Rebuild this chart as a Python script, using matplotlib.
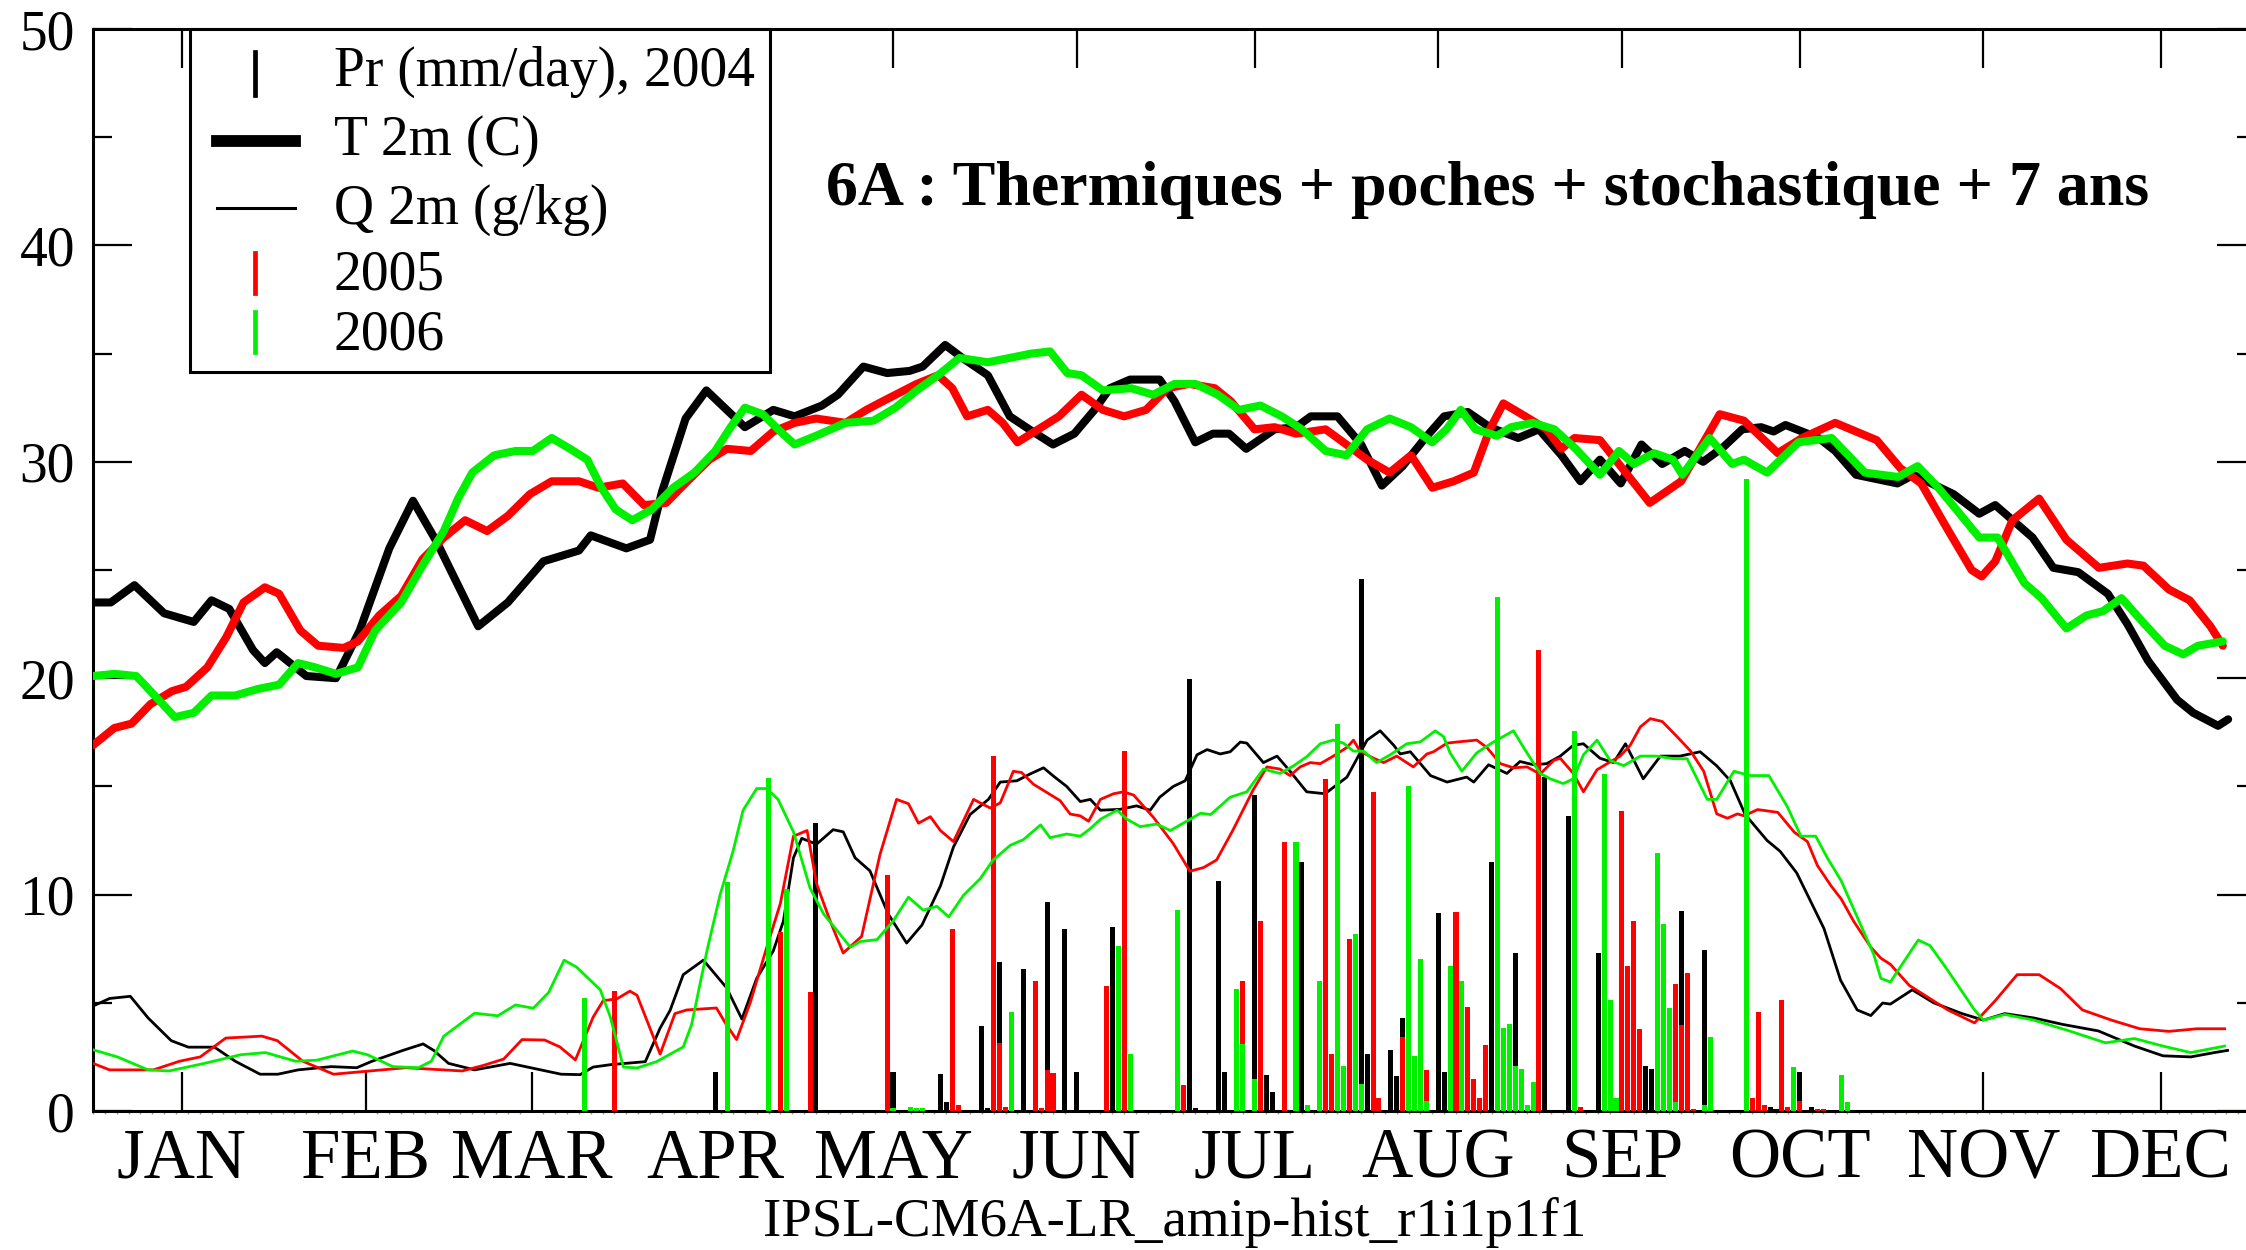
import matplotlib
matplotlib.use('Agg')
import matplotlib.pyplot as plt
from matplotlib.lines import Line2D
from matplotlib.patches import Rectangle
from matplotlib.ticker import MultipleLocator, FixedLocator

plt.rcParams['font.family'] = ['Liberation Serif', 'DejaVu Serif']

W, H = 2246, 1250

# ---------------- data ----------------
month_labels = ['JAN', 'FEB', 'MAR', 'APR', 'MAY', 'JUN',
                'JUL', 'AUG', 'SEP', 'OCT', 'NOV', 'DEC']
month_days = [15, 46, 74, 105, 135, 166, 196, 227, 258, 288, 319, 349]

# T 2m (C) - day of year / value
t2004_days = [0, 3, 7, 12, 17, 20, 23, 27, 29, 31, 36, 41, 45, 50, 54, 58, 65, 70, 76, 82,
              84, 90, 94, 96, 100, 103.5, 110, 114.8, 118.4, 123, 125.7, 130, 134, 137.8,
              140, 143.8, 146.7, 151, 154.7, 158, 162, 165.6, 169, 171.6, 175, 180, 182.5,
              186, 189, 191.7, 194.6, 199.4, 203, 205.5, 210, 214, 217.5, 221, 224.8, 228,
              232, 235.7, 240.5, 244, 247.8, 251, 254.3, 257.8, 261.3, 264.8, 268.6, 271.7,
              275.2, 278.3, 281.5, 283.6, 285.6, 291.2, 294, 297.5, 304.5, 307.2, 314,
              318.3, 321, 327.3, 330.8, 335, 340, 343.3, 346.8, 351.7, 354.4, 358.6, 360.3]
t2004_vals = [23.5, 23.5, 24.3, 23.0, 22.6, 23.6, 23.2, 21.3, 20.7, 21.2, 20.1, 20.0, 22.2,
              26.0, 28.2, 26.3, 22.4, 23.5, 25.4, 25.9, 26.6, 26.0, 26.4, 28.6, 32.0, 33.3,
              31.6, 32.4, 32.1, 32.6, 33.1, 34.4, 34.1, 34.2, 34.4, 35.4, 34.8, 34.0, 32.1,
              31.5, 30.8, 31.3, 32.4, 33.4, 33.8, 33.8, 32.8, 30.9, 31.3, 31.3, 30.6, 31.5,
              31.6, 32.1, 32.1, 30.8, 28.9, 29.8, 31.1, 32.1, 32.3, 31.6, 31.1, 31.5, 30.3,
              29.1, 30.1, 29.0, 30.8, 29.9, 30.5, 30.0, 30.7, 31.5, 31.6, 31.4, 31.7, 31.1,
              30.5, 29.4, 29.0, 29.4, 28.5, 27.6, 28.0, 26.5, 25.1, 24.9, 23.9, 22.5, 20.8,
              19.0, 18.4, 17.8, 18.1]

t2005_days = [0, 3.6, 6.5, 9.7, 13.3, 15.7, 19.3, 22.5, 25.4, 29, 31.4, 35, 38, 42.3, 44.7,
              48.3, 52, 55.6, 59.2, 62.8, 66.5, 70, 73.7, 77.4, 82, 85.3, 89.4, 93, 96.7,
              100.3, 104, 107, 111, 114.8, 118.4, 122, 127, 130.5, 134, 139, 142.6, 145,
              147.5, 151, 153.5, 156, 159.5, 163, 166.8, 170.4, 174, 177.7, 181.3, 185,
              189.3, 192, 196, 199.4, 203, 208, 211.5, 215, 218.8, 222.4, 226, 229.6, 233,
              235.7, 238, 241.7, 245.3, 247.8, 250, 254.3, 262.7, 268, 274.5, 278.6, 284.3,
              288.4, 294, 301, 305, 308.5, 312.7, 317, 318.7, 321, 323.9, 328.4, 333, 338.5,
              343.3, 346, 350.3, 353.8, 357.3, 359.4]
t2005_vals = [16.9, 17.7, 17.9, 18.8, 19.4, 19.6, 20.5, 21.9, 23.5, 24.2, 23.9, 22.2, 21.5,
              21.4, 21.7, 22.9, 23.8, 25.5, 26.5, 27.3, 26.8, 27.5, 28.5, 29.1, 29.1, 28.8,
              29.0, 28.0, 28.1, 29.1, 30.1, 30.6, 30.5, 31.4, 31.8, 32.0, 31.8, 32.4, 32.9,
              33.6, 34.0, 33.4, 32.1, 32.4, 31.8, 30.9, 31.5, 32.1, 33.1, 32.4, 32.1, 32.4,
              33.4, 33.6, 33.4, 32.8, 31.5, 31.6, 31.3, 31.5, 30.8, 30.1, 29.5, 30.3, 28.8,
              29.1, 29.5, 31.5, 32.7, 32.1, 31.5, 30.6, 31.1, 31.0, 28.1, 29.1, 32.2, 31.9,
              30.4, 31.1, 31.8, 31.0, 29.7, 29.0, 27.0, 25.0, 24.7, 25.4, 27.3, 28.3, 26.4,
              25.1, 25.3, 25.2, 24.1, 23.6, 22.4, 21.5]

t2006_days = [0, 3.6, 7.3, 10.4, 13.8, 17, 20, 24, 27.8, 31.4, 34.6, 37.5, 41, 44.7, 47.6, 52,
              55.6, 59.2, 61.6, 64, 67.7, 71.3, 74.2, 77.4, 80.5, 83.4, 85.8, 88.2, 91, 94.3,
              97.9, 101.5, 105, 107.6, 110, 113, 116, 118.4, 122, 127, 131.7, 135.4, 139,
              142.6, 146.2, 151, 154.7, 158.3, 161.5, 164.4, 166.8, 170.4, 175.2, 178.9,
              182.5, 186, 189.8, 193.4, 197, 200.6, 204, 208, 211.5, 215, 218.8, 222.4, 226,
              228.4, 230.8, 233.3, 236.9, 239.3, 243, 246.6, 250.2, 254.3, 257.5, 260, 263.4,
              266.6, 268.2, 272.8, 276.6, 278.6, 282.5, 287.8, 293.4, 299, 304.6, 307.9,
              311.4, 318.3, 321.4, 325.9, 328.8, 333, 336.4, 339.2, 342.3, 346.2, 349.6,
              352.7, 355.2, 359.4]
t2006_vals = [20.1, 20.2, 20.1, 19.2, 18.2, 18.4, 19.2, 19.2, 19.5, 19.7, 20.7, 20.5, 20.2,
              20.5, 22.2, 23.5, 25.2, 26.8, 28.3, 29.5, 30.3, 30.5, 30.5, 31.1, 30.6, 30.1,
              28.8, 27.8, 27.3, 27.8, 28.8, 29.5, 30.5, 31.6, 32.5, 32.2, 31.4, 30.8, 31.2,
              31.8, 31.9, 32.5, 33.3, 34.0, 34.8, 34.6, 34.8, 35.0, 35.1, 34.1, 34.0, 33.3,
              33.4, 33.1, 33.6, 33.6, 33.1, 32.4, 32.6, 32.1, 31.5, 30.5, 30.3, 31.5, 32.0,
              31.6, 30.9, 31.5, 32.4, 31.5, 31.2, 31.6, 31.8, 31.5, 30.6, 29.4, 30.5, 29.9,
              30.4, 30.1, 29.4, 31.1, 29.9, 30.1, 29.5, 30.9, 31.1, 29.5, 29.3, 29.8, 28.8,
              26.5, 26.5, 24.4, 23.7, 22.3, 22.9, 23.1, 23.7, 22.5, 21.5, 21.1, 21.5, 21.7]

# Q 2m (g/kg)
q2004_days = [0, 2.8, 6.3, 9.3, 13.2, 16.1, 20.5, 24, 28.2, 31.2, 34.6, 40.2, 44.5, 47.1,
              52.3, 55.7, 57.5, 60, 64.4, 70.4, 75.6, 79, 82.2, 84.4, 87.3, 93.2, 95.7, 97.4,
              99.6, 103, 106.9, 109.5, 112, 114.8, 116.5, 118.2, 119.6, 122.1, 124.9, 126.6,
              128.6, 131.1, 134.2, 137.3, 139.9, 143, 145.2, 148, 151.1, 153.1, 155.9, 158.1,
              160.4, 162.1, 164.3, 166.6, 168.3, 170, 173.3, 176.1, 178.4, 180, 182.3, 184.3,
              186.3, 188, 190.2, 191.9, 193.6, 194.7, 197.5, 199.8, 202, 204.8, 207.9, 211.6,
              213.3, 215, 217.2, 219.5, 220.6, 222.3, 225.7, 228.5, 230.7, 231.8, 233, 235.5,
              238.6, 240.8, 243.1, 245.3, 247.6, 249.8, 251.5, 254.3, 256.6, 258.6, 261.6,
              264.5, 267.8, 271.2, 274, 276.3, 278.8, 282.5, 284.7, 287.5, 289.2, 292.1,
              294.9, 297.7, 300, 302, 303.3, 307, 310.6, 315.4, 319, 322.6, 327.5, 332.4,
              338.4, 344.5, 349.3, 354, 358, 360.2]
q2004_vals = [4.85, 5.2, 5.3, 4.3, 3.25, 2.95, 2.95, 2.3, 1.7, 1.7, 1.9, 2.05, 2.0, 2.3, 2.8,
              3.1, 2.8, 2.2, 1.9, 2.2, 1.9, 1.7, 1.68, 2.03, 2.14, 2.28, 3.83, 4.66, 6.3, 6.97,
              5.7, 4.25, 6.13, 7.4, 8.77, 11.7, 12.6, 12.33, 13.0, 12.9, 11.7, 11.1, 9.1, 7.76,
              8.6, 10.4, 12.2, 13.7, 14.4, 15.2, 15.26, 15.57, 15.86, 15.47, 15.0, 14.3, 14.4,
              13.9, 13.94, 14.1, 13.9, 14.5, 15.0, 15.26, 16.46, 16.7, 16.5, 16.6, 17.05, 17.0,
              16.1, 16.4, 15.7, 14.75, 14.66, 15.43, 16.28, 17.14, 17.57, 16.9, 16.5, 16.6,
              15.5, 15.2, 15.35, 15.43, 15.2, 16.0, 15.6, 16.15, 16.0, 16.05, 16.4, 16.9,
              16.97, 16.3, 16.1, 16.97, 15.35, 16.4, 16.4, 16.6, 15.95, 15.26, 13.7, 12.5,
              12.0, 11.0, 10.05, 8.43, 6.04, 4.67, 4.41, 4.99, 4.94, 5.6, 5.0, 4.5, 4.2, 4.5,
              4.3, 4.0, 3.7, 3.0, 2.55, 2.5, 2.7, 2.8]

q2005_days = [0, 2.8, 10.2, 14.6, 18.1, 22.4, 28.5, 31.1, 35.4, 40.6, 46.7, 52.8, 62.3, 65.8,
              69.3, 72.4, 76.2, 78.8, 81.4, 84.4, 86.1, 88.4, 90.6, 91.8, 95.7, 98.2, 100.2,
              105.2, 106.9, 108.6, 110.9, 113.7, 116, 118.2, 120.5, 122.1, 124.4, 126.6, 129.7,
              132.8, 135.6, 137.6, 139.3, 141.3, 143, 145.2, 148.6, 151.4, 153.1, 155.3, 156.7,
              158.7, 163.2, 164.9, 166.6, 168, 170, 172.2, 173.9, 175.6, 179, 182.3, 185.1,
              187.4, 189.6, 192.4, 195.8, 198.1, 200.3, 202, 203.7, 205.4, 207.1, 209.3,
              211.6, 212.7, 213.8, 216.1, 217.8, 220, 222.8, 225.1, 226.2, 228.5, 230.1,
              233.5, 235.2, 237.5, 239.7, 242, 244.2, 246.5, 247.6, 249.8, 251.5, 253.8,
              255.5, 257.7, 259.4, 261.1, 262.8, 264.8, 267.3, 269.6, 271.8, 274, 275.8,
              277.5, 278.6, 280.9, 284.3, 287.1, 289.3, 291, 293.3, 295, 297.1, 300, 301.7,
              303.3, 306.5, 313, 317.5, 321, 324.7, 328.4, 332, 335.7, 340.6, 345.4, 350.3,
              355, 359.7]
q2005_vals = [2.2, 1.9, 1.9, 2.3, 2.5, 3.37, 3.46, 3.25, 2.3, 1.7, 1.85, 2.0, 1.85, 2.1, 2.4,
              3.3, 3.28, 2.96, 2.36, 4.34, 5.1, 5.18, 5.54, 5.35, 2.63, 4.5, 4.67, 4.76, 3.98,
              3.3, 5.0, 7.57, 9.6, 12.7, 12.96, 10.5, 8.77, 7.3, 8.07, 11.85, 14.4, 14.2, 13.3,
              13.6, 12.96, 12.45, 14.4, 14.0, 14.24, 15.7, 15.64, 15.1, 14.34, 13.72, 13.64,
              13.39, 14.4, 14.66, 14.75, 14.6, 13.55, 12.35, 11.08, 11.25, 11.6, 13.0, 14.85,
              15.9, 15.8, 15.5, 15.9, 16.1, 16.05, 16.4, 16.8, 17.14, 16.63, 16.3, 16.1, 16.4,
              15.9, 16.5, 16.6, 17.0, 17.05, 17.14, 16.8, 16.05, 15.86, 15.9, 15.57, 16.2,
              16.3, 15.6, 14.75, 15.77, 16.05, 16.4, 16.9, 17.75, 18.13, 18.0, 17.3, 16.63,
              15.7, 13.73, 13.53, 13.73, 13.64, 13.93, 13.8, 12.88, 12.45, 11.34, 10.4, 9.8,
              8.77, 7.57, 7.06, 6.78, 5.8, 4.67, 4.07, 5.1, 6.3, 6.3, 5.66, 4.67, 4.2, 3.8,
              3.68, 3.8, 3.8]

q2006_days = [0, 4.1, 9.3, 12.8, 18.8, 24.9, 29.1, 34.2, 37.8, 43.8, 46.3, 50.6, 54.9, 57.1,
              59.2, 64.4, 68.3, 71.3, 74.3, 76.9, 79.5, 81.6, 85.6, 87.3, 89.5, 91.8, 95.1,
              99.6, 101, 103.6, 105.8, 108, 109.7, 112, 113.7, 115.6, 118.2, 121, 123.3, 125.5,
              127.8, 129.5, 132.3, 135, 137.6, 140.1, 142.4, 144.4, 146.9, 149.7, 151.9, 154.8,
              157, 159.9, 161.5, 164.3, 166.6, 168.3, 170, 172.8, 174.5, 176.7, 179.5, 181.8,
              184.6, 186.9, 188.6, 191.9, 194.7, 197.5, 200.3, 202.6, 204.8, 207.1, 209.3, 211,
              212.7, 214.4, 216.6, 218.9, 221.7, 224, 226.5, 227.9, 229, 231, 233.5, 236.3,
              239.7, 241.4, 244.2, 245.9, 248.1, 249.8, 251.5, 253.8, 256, 258.3, 261.1, 263.9,
              266.7, 269, 272.4, 274, 276.9, 279.7, 282.8, 285.9, 288.2, 290.7, 292.7, 295,
              298.3, 300.5, 301.7, 303.3, 308, 310, 312.6, 317.5, 319, 322.6, 327.5, 333.5,
              339.6, 344.5, 349.3, 354, 359.7]
q2006_vals = [2.83, 2.5, 1.9, 1.85, 2.2, 2.6, 2.7, 2.3, 2.35, 2.77, 2.6, 2.05, 2.0, 2.3, 3.46,
              4.52, 4.4, 4.9, 4.75, 5.48, 6.97, 6.65, 5.6, 4.34, 2.03, 1.99, 2.28, 2.96, 3.98,
              7.4, 9.97, 12.0, 13.9, 14.9, 14.9, 14.4, 12.9, 10.3, 9.1, 8.36, 7.57, 7.83, 7.92,
              8.77, 9.88, 9.28, 9.46, 8.97, 9.97, 10.73, 11.6, 12.28, 12.54, 13.22, 12.63, 12.8,
              12.7, 13.05, 13.48, 13.9, 13.48, 13.14, 13.26, 12.96, 13.4, 13.76, 13.7, 14.5,
              14.75, 15.8, 15.6, 15.95, 16.37, 16.97, 17.14, 17.0, 16.63, 16.63, 16.1, 16.46,
              16.97, 17.06, 17.57, 17.3, 16.55, 15.7, 16.55, 17.05, 17.57, 16.8, 15.6, 15.35,
              15.13, 15.35, 16.46, 17.14, 16.2, 15.96, 16.4, 16.4, 16.28, 16.28, 14.4, 14.4,
              15.7, 15.5, 15.5, 14.07, 12.7, 12.7, 11.68, 10.64, 8.6, 7.23, 6.13, 5.96, 7.9,
              7.64, 6.65, 4.67, 4.2, 4.46, 4.2, 3.7, 3.15, 3.35, 3.0, 2.7, 3.0]

# Pr (mm/day) daily bars
pr2004_days = [105, 122, 135, 143, 144, 150, 151, 153, 157, 161, 164, 166, 172, 185, 186, 190,
               191, 196, 198, 199, 204, 214, 215, 219, 220, 221, 227, 228, 236, 240, 245, 249,
               254, 258, 262, 263, 268, 272, 283, 284, 287, 288, 290]
pr2004_vals = [1.8, 13.3, 1.8, 1.7, 0.4, 3.95, 0.15, 6.9, 6.58, 9.66, 8.42, 1.8, 8.48, 19.96,
               0.15, 10.65, 1.8, 14.61, 1.68, 0.88, 11.5, 24.57, 2.62, 2.82, 1.63, 4.29, 9.14,
               1.8, 11.5, 7.32, 15.43, 13.64, 7.32, 1.8, 2.1, 1.94, 9.23, 7.44, 0.2, 0.1, 0.83,
               1.8, 0.2]

pr2005_days = [88, 116, 121, 134, 145, 146, 152, 153, 154, 159, 160, 161, 162, 171, 174, 184,
               194, 197, 201, 208, 209, 212, 216, 217, 221, 225, 230, 232, 233, 234, 235, 244,
               251, 258, 259, 260, 261, 267, 268, 269, 270, 280, 281, 282, 285, 286, 288, 291,
               292]
pr2005_vals = [5.56, 8.29, 5.52, 10.9, 8.39, 0.3, 16.4, 3.13, 0.2, 6.0, 0.15, 1.9, 1.76, 5.78,
               16.62, 1.22, 6.0, 8.8, 12.42, 15.34, 2.62, 7.95, 14.75, 0.6, 3.4, 1.9, 9.2, 4.81,
               1.46, 0.6, 3.05, 21.3, 0.2, 13.86, 6.72, 8.8, 3.78, 5.86, 3.99, 6.38, 0.1, 0.6,
               4.58, 0.3, 5.15, 0.2, 0.48, 0.1, 0.1]

pr2006_days = [83, 107, 114, 117, 135, 138, 139, 140, 155, 173, 175, 183, 193, 194, 196, 203,
               205, 207, 210, 211, 213, 214, 222, 223, 224, 225, 229, 231, 237, 238, 239, 240,
               241, 242, 243, 250, 255, 256, 257, 264, 265, 266, 267, 272, 273, 279, 287, 295,
               296]
pr2006_vals = [5.2, 10.56, 15.4, 10.27, 0.15, 0.2, 0.15, 0.15, 4.58, 7.62, 2.65, 9.28, 5.66,
               3.1, 1.5, 12.42, 0.3, 6.0, 17.9, 2.1, 8.17, 1.25, 15.0, 2.53, 7.01, 0.48, 6.68,
               6.0, 23.76, 3.82, 4.02, 2.1, 1.94, 0.26, 1.34, 17.56, 15.57, 5.15, 0.6, 11.93,
               8.63, 4.76, 0.4, 0.3, 3.44, 29.2, 2.02, 1.68, 0.4]

title_text = '6A : Thermiques + poches + stochastique + 7 ans'
xlabel_text = 'IPSL-CM6A-LR_amip-hist_r1i1p1f1'
legend_labels = ['Pr (mm/day), 2004', 'T 2m (C)', 'Q 2m (g/kg)', '2005', '2006']

# ---------------- figure ----------------
BLACK, RED, GREEN = '#000000', '#ff0000', '#00f000'

fig = plt.figure(figsize=(W / 100, H / 100), dpi=100)
x0, x1, ytop, ybot = 93, 2256, 29, 1111
ax = fig.add_axes([x0 / W, (H - ybot) / H, (x1 - x0) / W, (ybot - ytop) / H])

sets = [(pr2004_days, pr2004_vals, t2004_days, t2004_vals, q2004_days, q2004_vals, BLACK),
        (pr2005_days, pr2005_vals, t2005_days, t2005_vals, q2005_days, q2005_vals, RED),
        (pr2006_days, pr2006_vals, t2006_days, t2006_vals, q2006_days, q2006_vals, GREEN)]

z = 2
for pd_, pv, td, tv, qd, qv, col in sets:
    ax.bar(pd_, pv, width=0.85, color=col, linewidth=0, zorder=z)
    ax.plot(td, tv, color=col, lw=5.8, solid_joinstyle='round', solid_capstyle='round',
            zorder=z + 1)
    ax.plot(qd, qv, color=col, lw=2.0, solid_joinstyle='round', zorder=z + 2)
    z += 3

ax.set_xlim(0, 365)
ax.set_ylim(0, 50)

for s in ax.spines.values():
    s.set_linewidth(2.2)

ax.yaxis.set_major_locator(MultipleLocator(10))
ax.yaxis.set_minor_locator(MultipleLocator(5))
ax.xaxis.set_major_locator(FixedLocator(month_days))
ax.set_xticklabels(month_labels)
ax.xaxis.set_minor_locator(MultipleLocator(2))

ax.tick_params(axis='y', which='major', direction='in', length=28, width=1.6,
               left=True, right=True, labelsize=40, pad=13)
ax.tick_params(axis='y', which='minor', direction='in', length=14, width=1.6,
               left=True, right=True)
ax.tick_params(axis='x', which='major', direction='in', length=28, width=1.6,
               bottom=True, top=True, labelsize=51, pad=12)
ax.tick_params(axis='x', which='minor', direction='out', length=2, width=1.0,
               bottom=True, top=False, color='#a0a070')

# x label
fig.text(0.5 * (x0 + x1) / W, 1 - 1236 / H, xlabel_text, ha='center', va='baseline',
         fontsize=39.5)

# title
fig.text(826 / W, 1 - 205 / H, title_text, ha='left', va='baseline',
         fontsize=46, fontweight='bold')

# ---------------- legend (manual) ----------------
def fx(x):
    return x / W


def fy(y):
    return 1 - y / H


fig.add_artist(Rectangle((fx(190), fy(372)), fx(770) - fx(190), fy(29) - fy(372),
                         facecolor='white', edgecolor='black', lw=2.2,
                         transform=fig.transFigure, zorder=30))
mx = 255
fig.add_artist(Line2D([fx(mx), fx(mx)], [fy(52), fy(95)], color=BLACK, lw=3.4,
                      transform=fig.transFigure, zorder=31))
fig.add_artist(Line2D([fx(217), fx(295)], [fy(141), fy(141)], color=BLACK, lw=8.5,
                      transform=fig.transFigure, zorder=31))
fig.add_artist(Line2D([fx(217), fx(295)], [fy(208), fy(208)], color=BLACK, lw=2.2,
                      transform=fig.transFigure, zorder=31))
fig.add_artist(Line2D([fx(mx), fx(mx)], [fy(253), fy(293)], color=RED, lw=3.4,
                      transform=fig.transFigure, zorder=31))
fig.add_artist(Line2D([fx(mx), fx(mx)], [fy(312), fy(352)], color=GREEN, lw=3.4,
                      transform=fig.transFigure, zorder=31))
for lab, yb in zip(legend_labels, [86, 155, 224, 290, 350]):
    fig.text(fx(334), fy(yb), lab, ha='left', va='baseline', fontsize=40, zorder=32)

fig.savefig('out.png', dpi=100)
